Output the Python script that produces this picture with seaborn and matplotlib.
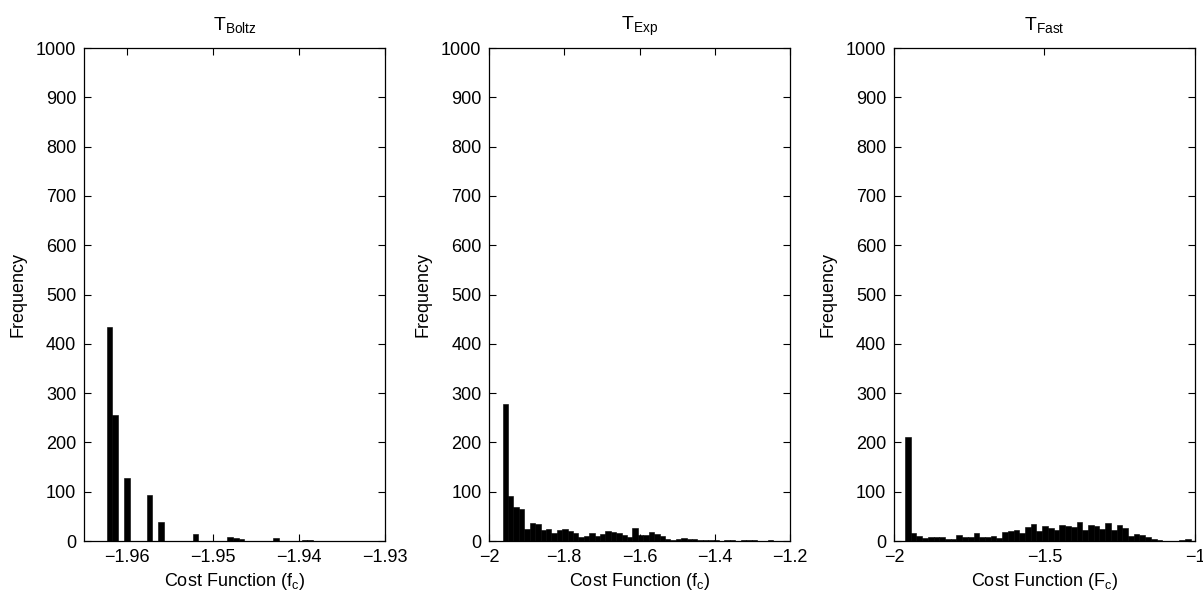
import numpy as np
import pandas as pd
import matplotlib
matplotlib.use("Agg")
import matplotlib.pyplot as plt
import seaborn as sns
from matplotlib.ticker import FuncFormatter

# histogram counts (50 bins each)
boltz_range = (-1.96237, -1.92902)
boltz_counts = [435, 256, 0, 127, 0, 0, 0, 93, 0, 38,
                0, 0, 0, 0, 0, 14, 0, 0, 0, 0,
                0, 9, 7, 5, 0, 0, 0, 0, 0, 7,
                0, 0, 0, 0, 3, 2, 0, 0, 0, 1,
                0, 0, 0, 0, 0, 0, 0, 0, 0, 0]

exp_range = (-1.9638, -1.2448)
exp_counts = [278, 91, 70, 64, 25, 37, 34, 22, 24, 16,
              22, 24, 21, 17, 9, 11, 16, 10, 14, 21,
              18, 16, 12, 8, 27, 13, 13, 18, 14, 10,
              5, 3, 5, 7, 5, 4, 3, 2, 3, 2,
              1, 3, 2, 1, 2, 2, 2, 1, 0, 3]

fast_range = (-1.9635, -1.0133)
fast_counts = [211, 17, 11, 7, 8, 9, 9, 5, 4, 13,
               9, 8, 16, 8, 9, 11, 7, 18, 20, 23,
               17, 28, 35, 20, 30, 27, 22, 32, 31, 28,
               38, 22, 32, 30, 25, 37, 23, 32, 26, 11,
               15, 13, 9, 4, 3, 1, 1, 1, 2, 4]

titles = [r"$\mathrm{T}_{\mathrm{Boltz}}$", r"$\mathrm{T}_{\mathrm{Exp}}$", r"$\mathrm{T}_{\mathrm{Fast}}$"]
xlabels = [r"Cost Function ($\mathrm{f}_\mathrm{c}$)",
           r"Cost Function ($\mathrm{f}_\mathrm{c}$)",
           r"Cost Function ($\mathrm{F}_\mathrm{c}$)"]
xlims = [(-1.965, -1.93), (-2.0, -1.2), (-2.0, -1.0)]
xticks = [[-1.96, -1.95, -1.94, -1.93],
          [-2.0, -1.8, -1.6, -1.4, -1.2],
          [-2.0, -1.5, -1.0]]
yticks = list(range(0, 1001, 100))

sns.set_style("ticks")
plt.rcParams["font.family"] = ["Liberation Sans", "DejaVu Sans"]
plt.rcParams["mathtext.fontset"] = "custom"
plt.rcParams["mathtext.rm"] = "Liberation Sans"
plt.rcParams["mathtext.it"] = "Liberation Sans:italic"
plt.rcParams["font.size"] = 13
plt.rcParams["text.color"] = "black"
plt.rcParams["axes.labelcolor"] = "black"
plt.rcParams["xtick.color"] = "black"
plt.rcParams["ytick.color"] = "black"
plt.rcParams["axes.linewidth"] = 0.9

fig = plt.figure(figsize=(12.03, 5.98), dpi=100)
lefts = [0.0698, 0.4065, 0.7431]
data = [(boltz_range, boltz_counts), (exp_range, exp_counts), (fast_range, fast_counts)]


def fmt(v, pos):
    return ("%g" % round(v, 4)).replace("-", "\u2212")


for i, ((lo, hi), counts) in enumerate(data):
    ax = fig.add_axes([lefts[i], 0.0953, 0.2502, 0.8244])
    edges = np.linspace(lo, hi, len(counts) + 1)
    df = pd.DataFrame({"x": (edges[:-1] + edges[1:]) / 2, "n": counts})
    sns.histplot(data=df, x="x", weights="n", bins=len(counts), binrange=(lo, hi),
                 ax=ax, color="black", edgecolor="black", linewidth=0.4, alpha=1)
    ax.set_xlim(*xlims[i])
    ax.set_ylim(0, 1000)
    ax.set_xticks(xticks[i])
    ax.set_yticks(yticks)
    ax.xaxis.set_major_formatter(FuncFormatter(fmt))
    ax.tick_params(direction="in", top=True, right=True, length=5,
                   width=0.8, labelsize=13)
    ax.tick_params(axis="y", pad=5.5)
    ax.tick_params(axis="x", pad=6)
    for s in ax.spines.values():
        s.set_visible(True)
        s.set_color("black")
    ax.set_title(titles[i], fontsize=14, pad=13)
    ax.set_xlabel(xlabels[i], fontsize=13, labelpad=3)
    ax.set_ylabel("Frequency", fontsize=13, labelpad=7)

fig.savefig("out.png", dpi=100, facecolor="white")
